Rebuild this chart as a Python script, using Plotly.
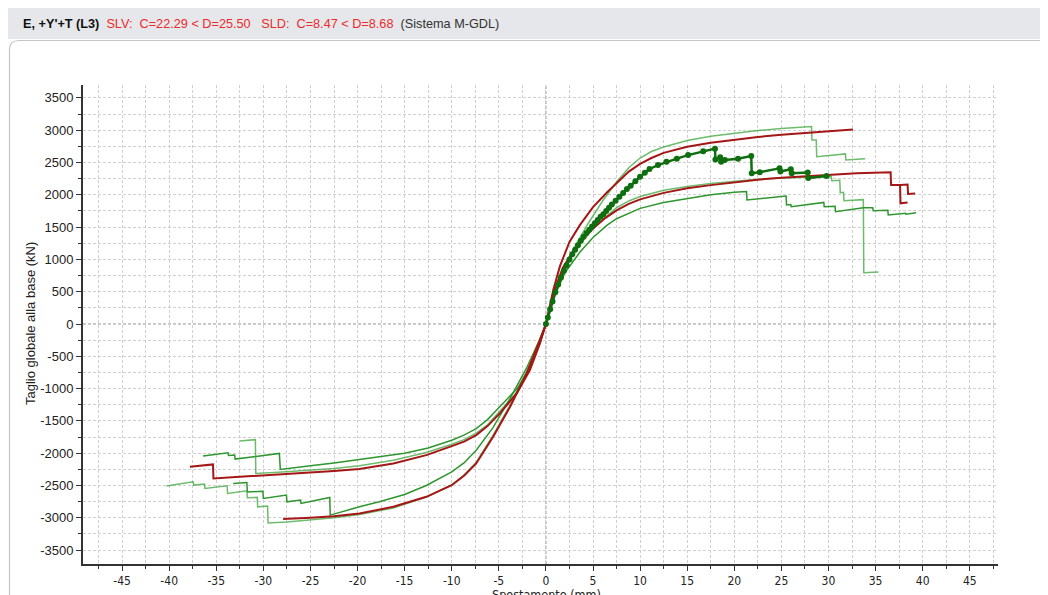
import plotly.graph_objects as go

# ---------------- data (mm, kN) ----------------
# positive direction
r1_x = [0, 0.4, 0.8, 1.5, 2.5, 3.6, 5.0, 6.5, 7.6, 8.8, 10.0, 11.2, 12.5, 15.0, 17.5, 20.0, 22.5, 25.0, 27.5, 30.0, 32.6]
r1_y = [0, 290, 540, 900, 1270, 1530, 1810, 2040, 2200, 2360, 2480, 2570, 2650, 2745, 2805, 2855, 2895, 2930, 2960, 2985, 3010]

g1_x = [0, 0.5, 1.0, 1.8, 3.0, 4.5, 6.0, 7.5, 8.8, 10.0, 11.2, 12.5, 15.0, 17.5, 20.0, 22.5, 25.0, 28.2, 28.25, 28.7, 28.75, 31.8, 31.85, 33.9]
g1_y = [0, 230, 470, 800, 1180, 1560, 1900, 2200, 2420, 2570, 2670, 2740, 2840, 2905, 2955, 2995, 3025, 3056, 2850, 2850, 2590, 2633, 2540, 2560]

dg_x = [0, 0.2, 0.45, 0.7, 1.0, 1.3, 1.6, 1.9, 2.2, 2.5, 2.8, 3.1, 3.4, 3.7, 4.0, 4.3, 4.6, 4.9, 5.2, 5.5, 5.8, 6.1, 6.4, 6.7,
        7.0, 7.4, 7.8, 8.2, 8.6, 9.0, 9.5, 10.0, 10.5, 11.0, 11.9, 12.8, 13.9, 15.1, 16.7, 17.95, 18.0, 18.5, 18.6, 19.0,
        20.4, 21.8, 21.85, 22.7, 24.8, 24.9, 26.0, 26.1, 27.8, 27.85, 29.8]
dg_y = [0, 100, 230, 350, 490, 610, 720, 820, 910, 1000, 1080, 1150, 1220, 1290, 1350, 1410, 1460, 1510, 1560, 1610, 1660, 1700, 1750, 1800,
        1850, 1910, 1970, 2030, 2090, 2140, 2210, 2280, 2340, 2400, 2460, 2510, 2560, 2615, 2675, 2715, 2545, 2580, 2510, 2540,
        2560, 2600, 2335, 2350, 2410, 2360, 2395, 2335, 2345, 2260, 2290]

r2_x = [0, 0.4, 0.8, 1.8, 2.9, 4.0, 5.0, 6.3, 7.5, 8.8, 10.0, 12.5, 15.0, 17.5, 20.0, 22.5, 25.0, 27.5, 30.0, 33.0, 36.6, 36.65, 37.6, 37.65, 38.4]
r2_y = [0, 250, 480, 870, 1130, 1330, 1480, 1640, 1760, 1860, 1930, 2030, 2100, 2150, 2195, 2235, 2265, 2290, 2315, 2335, 2350, 2153, 2153, 1869, 1880]
r2b_x = [37.6, 38.4, 38.45, 39.2]
r2b_y = [2153, 2160, 2013, 2020]

g2_x = [0, 0.4, 0.8, 1.8, 2.9, 4.0, 5.0, 6.3, 7.5, 8.8, 10.0, 12.5, 15.0, 17.5, 20.0, 22.5, 25.0, 27.5, 30.3, 30.35, 31.2, 31.25, 31.6, 31.65, 33.7, 33.75, 35.3]
g2_y = [0, 220, 440, 810, 1080, 1300, 1470, 1650, 1800, 1905, 1975, 2070, 2130, 2175, 2212, 2240, 2262, 2278, 2285, 2219, 2225, 2034, 2040, 1910, 1925, 795, 805]

g3_x = [0, 0.4, 0.8, 2.0, 3.6, 5.0, 6.5, 7.5, 8.8, 10.0, 12.5, 15.0, 17.5, 20.0, 21.3, 21.35, 25.5, 25.55, 26.0, 26.05, 29.5, 29.55,
        30.7, 30.75, 33.7, 34.7, 34.75, 36.3, 36.35, 38.2, 38.25, 39.3]
g3_y = [0, 200, 390, 790, 1110, 1340, 1530, 1630, 1720, 1790, 1880, 1945, 2000, 2040, 2050, 1920, 1982, 1843, 1850, 1817, 1882, 1817,
        1822, 1739, 1801, 1800, 1755, 1760, 1688, 1713, 1700, 1724]

# negative direction
r3_x = [0, -0.64, -1.7, -3.1, -4.9, -6.2, -7.4, -8.7, -10, -12.7, -16.2, -19.8, -22.5, -25, -27.5, -30, -32.5, -35.3, -35.35, -37.8]
r3_y = [0, -300, -713, -1074, -1384, -1580, -1720, -1820, -1890, -2030, -2159, -2245, -2275, -2300, -2320, -2340, -2365, -2390, -2173, -2209]

ga_x = [0, -0.6, -1.6, -3.0, -4.9, -6.2, -7.4, -8.7, -10, -12.5, -15, -17.7, -20, -22.5, -25, -28.2, -28.3, -33.0, -33.05, -33.7, -33.75, -36.4]
ga_y = [0, -270, -640, -990, -1280, -1480, -1620, -1720, -1800, -1920, -2000, -2055, -2105, -2150, -2195, -2251, -2003, -2091, -2029, -2036, -1993, -2044]

gb_x = [0, -0.6, -1.7, -3.1, -4.9, -6.2, -7.4, -8.7, -10, -12.7, -16.2, -19.8, -22.5, -25, -28, -30.8, -30.85, -32.5]
gb_y = [0, -290, -700, -1060, -1350, -1560, -1690, -1790, -1860, -1990, -2110, -2195, -2235, -2265, -2290, -2313, -1790, -1812]

r4_x = [0, -0.64, -2.05, -3.8, -5.6, -7.4, -8.7, -10, -12.7, -16.2, -19.8, -22.5, -25, -27.9]
r4_y = [0, -250, -764, -1281, -1746, -2159, -2350, -2495, -2675, -2830, -2934, -2975, -3000, -3020]

ge_x = [0, -0.64, -2.05, -3.8, -5.6, -7.4, -8.7, -10, -12.7, -16.2, -19.8, -22.5, -25, -27.5, -29.5, -29.55, -30.6, -30.65,
        -31.7, -31.75, -33.8, -33.85, -36.2, -36.25, -37.4, -37.45, -40.3]
ge_y = [0, -240, -740, -1250, -1720, -2140, -2340, -2490, -2680, -2850, -2950, -3000, -3035, -3065, -3080, -2819, -2830, -2684,
        -2690, -2582, -2622, -2504, -2545, -2478, -2494, -2442, -2509]

gd_x = [0, -0.6, -2.05, -3.8, -5.6, -7.4, -8.7, -10, -12.7, -15, -17.7, -19.8, -22.9, -22.95, -26.0, -26.05, -27.5, -27.55,
        -30.0, -30.05, -31.7, -31.75, -33.2]
gd_y = [0, -220, -680, -1150, -1600, -1953, -2150, -2288, -2500, -2640, -2752, -2830, -2958, -2684, -2777, -2726, -2752, -2648,
        -2700, -2590, -2600, -2455, -2467]

x_ticks = list(range(-45, 50, 5))
y_ticks = list(range(-3500, 4000, 500))

# ---------------- styles ----------------
RED = "#a51616"
LGREEN = "rgba(60,165,60,0.75)"
MGREEN = "#2e962e"
DGREEN = "#0f6e0f"

fig = go.Figure()


def add_line(x, y, color, width):
    fig.add_trace(go.Scatter(x=x, y=y, mode="lines", line=dict(color=color, width=width),
                             hoverinfo="skip", showlegend=False))


for (x, y, c) in [(g1_x, g1_y, LGREEN), (g2_x, g2_y, LGREEN), (g3_x, g3_y, MGREEN),
                  (ga_x, ga_y, MGREEN), (gb_x, gb_y, LGREEN), (gd_x, gd_y, MGREEN), (ge_x, ge_y, LGREEN)]:
    add_line(x, y, c, 1.5)

for (x, y) in [(r1_x, r1_y), (r2_x, r2_y), (r2b_x, r2b_y), (r3_x, r3_y), (r4_x, r4_y)]:
    add_line(x, y, RED, 2)

fig.add_trace(go.Scatter(x=dg_x, y=dg_y, mode="lines+markers",
                         line=dict(color=DGREEN, width=2.5),
                         marker=dict(color=DGREEN, size=6),
                         hoverinfo="skip", showlegend=False))

# ---------------- layout ----------------
# the page body adds an 8px offset; all reference pixel positions are shifted by OFF
OFF = 8
W, H = 1048, 595
PL, PR, PT, PB = 83, 998, 85, 564          # plot area in reference pixels
L, R, T, B = PL - OFF, W - (PR - OFF), PT - OFF, H - (PB - OFF)
pw, ph = W - L - R, H - T - B


def px(xp):
    return (xp - OFF - L) / pw


def py(yp):
    return (H - B - (yp - OFF)) / ph


GRID = "#d0d0d0"
DASH = "3px,2px"
fig.update_layout(
    width=W, height=H,
    margin=dict(l=L, r=R, t=T, b=B, autoexpand=False),
    paper_bgcolor="white", plot_bgcolor="white",
    showlegend=False,
    font=dict(family="Liberation Sans, Arial, sans-serif", size=12, color="#222"),
)

fig.update_xaxes(
    automargin=False,
    range=[-49.15, 48.0], tickmode="array", tickvals=x_ticks, ticktext=[str(v) for v in x_ticks],
    ticks="outside", ticklen=5, tickcolor="#333", tickwidth=1,
    showline=True, linecolor="#333", linewidth=2,
    showgrid=True, gridcolor=GRID, griddash=DASH, gridwidth=1, zeroline=False,
    minor=dict(dtick=2.5, tick0=0, showgrid=True, gridcolor=GRID, griddash=DASH,
               ticks="outside", ticklen=3, tickcolor="#333"),
    tickfont=dict(family="Liberation Sans Narrow, DejaVu Sans Condensed, Liberation Sans, sans-serif", size=12, color="#222"),
)
fig.update_yaxes(
    automargin=False,
    range=[-3715, 3700], tickmode="array", tickvals=y_ticks, ticktext=[str(v) for v in y_ticks],
    ticks="outside", ticklen=5, tickcolor="#333", tickwidth=1,
    showline=True, linecolor="#333", linewidth=2,
    showgrid=True, gridcolor=GRID, griddash=DASH, gridwidth=1, zeroline=False,
    minor=dict(dtick=250, tick0=0, showgrid=True, gridcolor=GRID, griddash=DASH,
               ticks="outside", ticklen=3, tickcolor="#333"),
    tickfont=dict(size=13, color="#222"),
)

shapes = [
    # header band
    dict(type="rect", xref="paper", yref="paper", x0=px(8), x1=px(1070), y0=py(39), y1=py(8),
         fillcolor="#e5e7ea", line=dict(width=0), layer="below"),
    # panel border with rounded corner
    dict(type="path", xref="paper", yref="paper",
         path=f"M {px(9.5)},{py(640)} L {px(9.5)},{py(50)} Q {px(9.5)},{py(40.5)} {px(19)},{py(40.5)} L {px(1070)},{py(40.5)}",
         line=dict(color="#c4c6c9", width=1.2), layer="below"),
    # zero lines
    dict(type="line", xref="x", yref="paper", x0=0, x1=0, y0=0, y1=1,
         line=dict(color="#8a8a8a", width=1, dash="3px,2px"), layer="below"),
    dict(type="line", xref="paper", yref="y", x0=0, x1=1, y0=0, y1=0,
         line=dict(color="#8a8a8a", width=1, dash="3px,2px"), layer="below"),
]
fig.update_layout(shapes=shapes)

sp = "\u00a0"
title_html = (f"<b>E, +Y'+T (L3)</b>{sp*2}"
              f"<span style='color:#ee2a2a'>SLV:{sp*2}C=22.29 &lt; D=25.50{sp*3}SLD:{sp*2}C=8.47 &lt; D=8.68</span>"
              f"{sp*2}<span style='color:#333'>(Sistema M-GDL)</span>")
fig.add_annotation(xref="paper", yref="paper", x=px(21), y=py(24), xanchor="left", yanchor="middle",
                   text=title_html, showarrow=False, font=dict(size=12.7, color="#111"))
fig.add_annotation(xref="paper", yref="paper", x=px(30), y=py(324), xanchor="center", yanchor="middle",
                   text="Taglio globale alla base (kN)", textangle=-90, showarrow=False,
                   font=dict(size=13, color="#222"))
fig.add_annotation(xref="paper", yref="paper", x=px(546), y=py(594), xanchor="center", yanchor="middle",
                   text="Spostamento (mm)", showarrow=False,
                   font=dict(family="Liberation Sans Narrow, DejaVu Sans Condensed, Liberation Sans, sans-serif", size=12.5, color="#222"))

fig.write_html("out.html")
